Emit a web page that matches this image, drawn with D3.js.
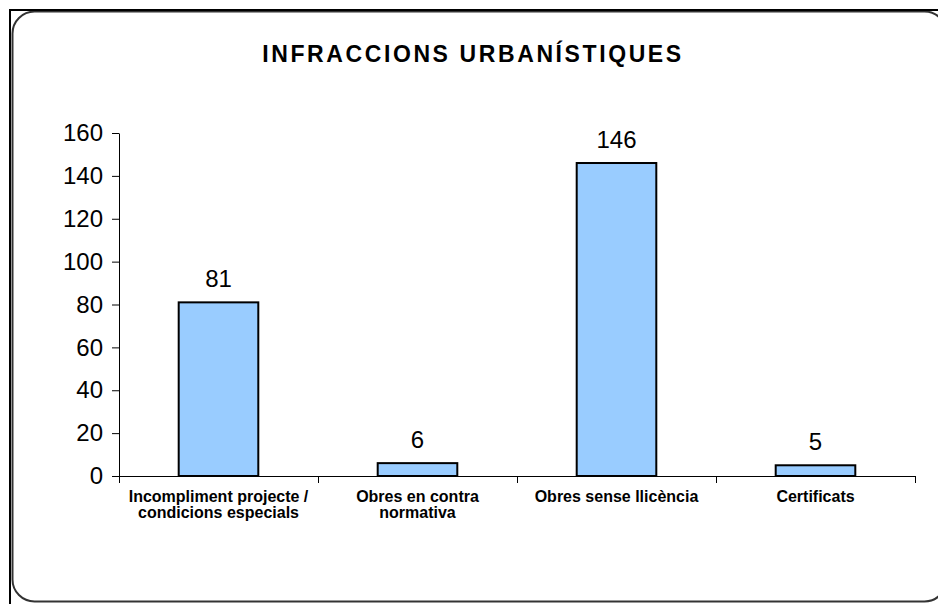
<!DOCTYPE html>
<html>
<head>
<meta charset="utf-8">
<script src="https://cdn.jsdelivr.net/npm/d3@7/dist/d3.min.js"></script>
<style>
  html, body { margin: 0; padding: 0; background: #ffffff; }
  svg { display: block; }
</style>
</head>
<body>
<svg id="chart" width="938" height="604"></svg>
<script>
// Data
const categories = [
  ["Incompliment projecte /", "condicions especials"],
  ["Obres en contra", "normativa"],
  ["Obres sense llicència"],
  ["Certificats"]
];
const values = [81, 6, 146, 5];
const yTicks = [0, 20, 40, 60, 80, 100, 120, 140, 160];
const title = "INFRACCIONS URBANÍSTIQUES";

const svg = d3.select("#chart");

// Frame: black outer edge on top/left plus rounded inner border
svg.append("rect")
  .attr("x", 12.5).attr("y", 11.5)
  .attr("width", 934).attr("height", 590)
  .attr("rx", 22).attr("ry", 22)
  .attr("fill", "#ffffff")
  .attr("stroke", "#333333")
  .attr("stroke-width", 2);
svg.append("path")
  .attr("d", "M10,604 L10,10 L938,10")
  .attr("fill", "none")
  .attr("stroke", "#000000")
  .attr("stroke-width", 2);

// Title
svg.append("text")
  .attr("x", 473).attr("y", 62)
  .attr("text-anchor", "middle")
  .attr("font-family", "Liberation Sans, Arial, sans-serif")
  .attr("font-weight", "bold")
  .attr("font-size", 23)
  .attr("letter-spacing", 2.6)
  .attr("fill", "#000")
  .text(title);

// Scales
const plot = { left: 119, right: 915, top: 133, bottom: 476 };
const x = d3.scaleBand()
  .domain(d3.range(categories.length))
  .range([plot.left, plot.right])
  .paddingInner(0.6)
  .paddingOuter(0.3);
const xEdges = d3.scaleLinear()
  .domain([0, categories.length])
  .range([plot.left, plot.right]);
const y = d3.scaleLinear()
  .domain([0, 160])
  .range([plot.bottom, plot.top]);

// Y axis
const yAxis = svg.append("g")
  .attr("transform", `translate(${plot.left},0)`)
  .call(d3.axisLeft(y).tickValues(yTicks).tickSize(7).tickPadding(9).tickSizeOuter(0));
yAxis.select(".domain").attr("stroke", "#000").attr("stroke-width", 1);
yAxis.selectAll(".tick line").attr("stroke", "#000");
yAxis.selectAll(".tick text")
  .attr("font-family", "Liberation Sans, Arial, sans-serif")
  .attr("font-size", 24)
  .attr("fill", "#000");

// Bars
svg.append("g").selectAll("rect")
  .data(values)
  .join("rect")
  .attr("x", (d, i) => x(i))
  .attr("y", d => y(d))
  .attr("width", x.bandwidth())
  .attr("height", d => y(0) - y(d))
  .attr("fill", "#99ccff")
  .attr("stroke", "#000")
  .attr("stroke-width", 2);

// X axis line and boundary ticks
const xAxisG = svg.append("g");
xAxisG.append("line")
  .attr("x1", plot.left).attr("x2", plot.right)
  .attr("y1", y(0) + 0.5).attr("y2", y(0) + 0.5)
  .attr("stroke", "#000");
xAxisG.selectAll("line.tk")
  .data(d3.range(categories.length + 1))
  .join("line")
  .attr("class", "tk")
  .attr("x1", d => Math.round(xEdges(d)) + 0.5)
  .attr("x2", d => Math.round(xEdges(d)) + 0.5)
  .attr("y1", y(0)).attr("y2", y(0) + 7)
  .attr("stroke", "#000");

// Category labels
const catG = svg.append("g");
categories.forEach((lines, i) => {
  const t = catG.append("text")
    .attr("x", x(i) + x.bandwidth() / 2)
    .attr("y", 502)
    .attr("text-anchor", "middle")
    .attr("font-family", "Liberation Sans Narrow, Arial Narrow, Liberation Sans, sans-serif")
    .attr("font-weight", "bold")
    .attr("font-size", 16)
    .attr("fill", "#000");
  lines.forEach((ln, j) => {
    t.append("tspan")
      .attr("x", x(i) + x.bandwidth() / 2)
      .attr("dy", j === 0 ? 0 : 16)
      .text(ln);
  });
});

// Value labels
svg.append("g").selectAll("text")
  .data(values)
  .join("text")
  .attr("x", (d, i) => x(i) + x.bandwidth() / 2)
  .attr("y", d => y(d) - 15)
  .attr("text-anchor", "middle")
  .attr("font-family", "Liberation Sans, Arial, sans-serif")
  .attr("font-size", 24)
  .attr("fill", "#000")
  .text(d => d);
</script>
</body>
</html>
